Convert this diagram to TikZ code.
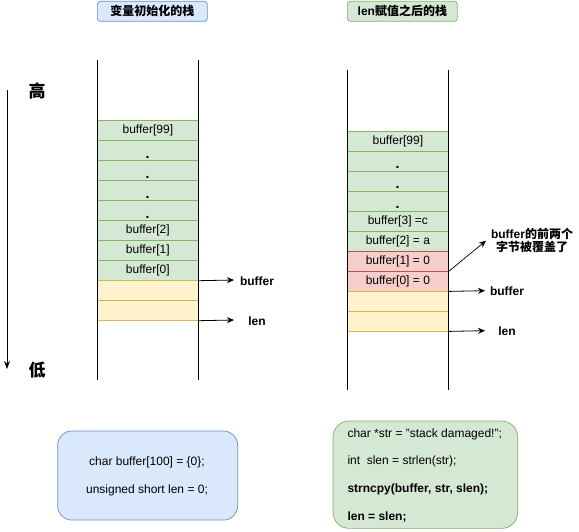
\documentclass[tikz,border=0pt]{standalone}
\usepackage{fontspec}
\setmainfont{Liberation Sans}
\newfontfamily\cjk{Noto Sans CJK SC}
\usetikzlibrary{arrows.meta}
\definecolor{gfill}{HTML}{D5E8D4}
\definecolor{gline}{HTML}{82B366}
\definecolor{rfill}{HTML}{F8CECC}
\definecolor{rline}{HTML}{B85450}
\definecolor{yfill}{HTML}{FFF2CC}
\definecolor{yline}{HTML}{D6B656}
\definecolor{bfill}{HTML}{DAE8FC}
\definecolor{bline}{HTML}{6C8EBF}
\begin{document}
\begin{tikzpicture}[x=1pt,y=-1pt,
  cell/.style={rectangle, minimum width=101pt, minimum height=20pt, inner sep=0pt,
    anchor=north west, font=\fontsize{12}{14}\selectfont, line width=0.7pt},
  cg/.style={cell, fill=gfill, draw=gline},
  cr/.style={cell, fill=rfill, draw=rline},
  cy/.style={cell, fill=yfill, draw=yline},
  dotlbl/.style={anchor=base, inner sep=0pt, font=\fontsize{14}{14}\selectfont\bfseries},
  wall/.style={line width=1pt},
  ptr/.style={line width=0.8pt, -{Stealth[length=7pt,width=6pt]}},
  lbl/.style={font=\fontsize{12}{14}\selectfont\bfseries, inner sep=0pt},
  title/.style={rectangle, rounded corners=3pt, line width=0.7pt, minimum width=110pt,
    minimum height=20pt, anchor=north west, inner sep=0pt, font=\fontsize{12}{14}\selectfont\bfseries},
  code/.style={font=\fontsize{12}{14}\selectfont, inner sep=0pt}
]
\useasboundingbox[fill=white] (0,0) rectangle (579,532);

% titles
\node[title, fill=bfill, draw=bline] (t1) at (97,1) {\cjk\bfseries 变量初始化的栈};
\node[title, fill=gfill, draw=gline] (t2) at (347,1) {len{\cjk\bfseries 赋值之后的栈}};

% axis
\coordinate (ax1) at (7,90);
\coordinate (ax2) at (7,369);
\draw[line width=1pt, -{Stealth[length=8pt,width=6pt]}] (ax1) -- (ax2);
\node[font=\fontsize{17}{17}\selectfont\cjk\bfseries, inner sep=0pt] (hi) at (37,91) {高};
\node[font=\fontsize{17}{17}\selectfont\cjk\bfseries, inner sep=0pt] (lo) at (37,370) {低};

% left stack
\node[cg] (l99) at (97,120) {buffer[99]};
\node[cg] (ld1) at (97,140) {};
\node[cg] (ld2) at (97,160) {};
\node[cg] (ld3) at (97,180) {};
\node[cg] (ld4) at (97,200) {};
\node[cg] (l2) at (97,220) {buffer[2]};
\node[cg] (l1) at (97,240) {buffer[1]};
\node[cg] (l0) at (97,260) {buffer[0]};
\node[cy] (ly1) at (97,280) {};
\node[cy] (ly2) at (97,300) {};
\node[dotlbl] at (147.5,158.5) {.};
\node[dotlbl] at (147.5,178.5) {.};
\node[dotlbl] at (147.5,198.5) {.};
\node[dotlbl] at (147.5,218.5) {.};
\coordinate (lwa1) at (97,60);  \coordinate (lwa2) at (97,380);
\coordinate (lwb1) at (198,60); \coordinate (lwb2) at (198,380);
\draw[wall] (lwa1) -- (lwa2);
\draw[wall] (lwb1) -- (lwb2);

\node[lbl] (lbuf) at (257,281) {buffer};
\node[lbl] (llen) at (257,321) {len};
\coordinate (lbufe) at (234,280);
\coordinate (llene) at (234,320);
\draw[ptr] (l0.south east) -- (lbufe);
\draw[ptr] (ly2.south east) -- (llene);

% right stack
\node[cg] (r99) at (347,130.7) {buffer[99]};
\node[cg] (rd1) at (347,150.7) {};
\node[cg] (rd2) at (347,170.7) {};
\node[cg] (rd3) at (347,190.7) {};
\node[cg] (r3) at (347,210.7) {buffer[3] =c};
\node[cg] (r2) at (347,230.7) {buffer[2] = a};
\node[cr] (r1) at (347,250.7) {buffer[1] = 0};
\node[cr] (r0) at (347,270.7) {buffer[0] = 0};
\node[cy] (ry1) at (347,290.7) {};
\node[cy] (ry2) at (347,310.7) {};
\node[dotlbl] at (397.5,168.5) {.};
\node[dotlbl] at (397.5,188.5) {.};
\node[dotlbl] at (397.5,208.5) {.};
\coordinate (rwa1) at (347,70);  \coordinate (rwa2) at (347,390);
\coordinate (rwb1) at (448,70);  \coordinate (rwb2) at (448,390);
\draw[wall] (rwa1) -- (rwa2);
\draw[wall] (rwb1) -- (rwb2);

\node[lbl] (rbuf) at (507,291) {buffer};
\node[lbl] (rlen) at (507,331) {len};
\coordinate (rbufe) at (485,290.7);
\coordinate (rlene) at (485,330.7);
\draw[ptr] (r0.south east) -- (rbufe);
\draw[ptr] (ry2.south east) -- (rlene);

\node[lbl, align=center] (note) at (532,240.5) {buffer{\cjk\bfseries 的前两个}\\[-1pt]{\cjk\bfseries 字节被覆盖了}};
\coordinate (notee) at (486,240.7);
\draw[ptr, line width=0.7pt] (r1.south east) -- (notee);

% code boxes
\node[rectangle, rounded corners=14pt, fill=bfill, draw=bline, line width=0.7pt,
  minimum width=180pt, minimum height=89pt, anchor=north west] (cb1) at (57.3,430.7) {};
\node[code] (c11) at (147,462.5) {char buffer[100] = \{0\};};
\node[code] (c12) at (147,490.7) {unsigned short len = 0;};

\node[rectangle, rounded corners=16pt, fill=gfill, draw=gline, line width=0.7pt,
  minimum width=184.6pt, minimum height=107.3pt, anchor=north west] (cb2) at (332.7,420.7) {};
\node[code, anchor=west] (c21) at (347.3,434) {char *str = "stack damaged!";};
\node[code, anchor=west] (c22) at (347.3,461.7) {int\ \ slen = strlen(str);};
\node[code, anchor=west, font=\fontsize{12}{14}\selectfont\bfseries] (c23) at (347.3,489.3) {strncpy(buffer, str, slen);};
\node[code, anchor=west, font=\fontsize{12}{14}\selectfont\bfseries] (c24) at (347.3,516.7) {len = slen;};
\end{tikzpicture}
\end{document}
